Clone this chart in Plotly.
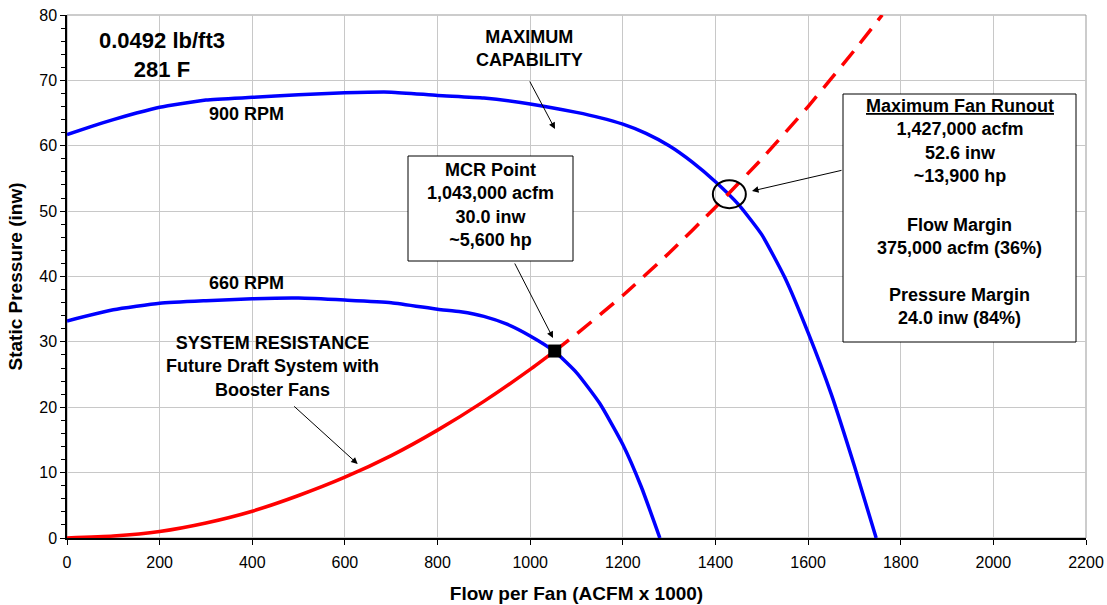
import plotly.graph_objects as go

# ---------------- data ----------------
rpm900_x = [0, 50, 100, 150, 200, 300, 400, 500, 600, 700, 800, 900, 1000, 1100, 1150, 1200,
            1250, 1300, 1350, 1400, 1450, 1500, 1550, 1600, 1650, 1700, 1747]
rpm900_y = [61.7, 62.9, 64.0, 65.0, 65.9, 67.0, 67.4, 67.8, 68.1, 68.2, 67.7, 67.3, 66.4, 65.1, 64.3, 63.3,
            61.9, 60.0, 57.5, 54.5, 51.0, 46.4, 39.8, 31.4, 22.0, 11.0, 0.0]

rpm660_x = [0, 100, 200, 300, 400, 500, 600, 700, 800, 850, 900, 950, 1000, 1053, 1100, 1150, 1200, 1240, 1280]
rpm660_y = [33.2, 34.9, 35.9, 36.3, 36.6, 36.7, 36.4, 36.0, 35.0, 34.6, 33.9, 32.7, 30.9, 28.5, 25.3, 20.6, 14.3, 7.8, 0.0]

sys_x = [0, 100, 200, 300, 400, 500, 600, 700, 800, 900, 1000, 1053]
sys_y = [0.0, 0.3, 1.0, 2.3, 4.1, 6.5, 9.3, 12.6, 16.5, 20.9, 25.8, 28.6]

sys_future_x = [1053, 1100, 1200, 1300, 1400, 1500, 1600, 1700, 1760]
sys_future_y = [28.6, 31.2, 37.1, 43.6, 50.6, 58.0, 66.0, 74.6, 80.0]

mcr_x = [1053]
mcr_y = [28.6]
runout_x = 1430
runout_y = 52.6

x_ticks = [0, 200, 400, 600, 800, 1000, 1200, 1400, 1600, 1800, 2000, 2200]
y_ticks = [0, 10, 20, 30, 40, 50, 60, 70, 80]

# ---------------- figure ----------------
W, H = 1107, 605
L, R, T, B = 67, 1086, 15, 538          # plot area in screen pixels
FONT = "Liberation Sans, Arial, sans-serif"


def pxx(p):
    return (p - L) / (R - L)


def pxy(p):
    return (B - p) / (B - T)


fig = go.Figure()

fig.add_trace(go.Scatter(x=rpm900_x, y=rpm900_y, mode="lines",
                         line=dict(color="#0000ff", width=3.5, shape="spline", smoothing=0.5),
                         name="900 RPM", hoverinfo="x+y"))
fig.add_trace(go.Scatter(x=rpm660_x, y=rpm660_y, mode="lines",
                         line=dict(color="#0000ff", width=3.5, shape="spline", smoothing=0.5),
                         name="660 RPM", hoverinfo="x+y"))
fig.add_trace(go.Scatter(x=sys_x, y=sys_y, mode="lines",
                         line=dict(color="#ff0000", width=3.5, shape="spline", smoothing=0.5),
                         name="System Resistance", hoverinfo="x+y"))
fig.add_trace(go.Scatter(x=sys_future_x, y=sys_future_y, mode="lines",
                         line=dict(color="#ff0000", width=3.5, dash="18px,11px", shape="spline", smoothing=0.5),
                         name="System Resistance (extended)", hoverinfo="x+y"))
fig.add_trace(go.Scatter(x=mcr_x, y=mcr_y, mode="markers",
                         marker=dict(symbol="square", size=13, color="black"),
                         name="MCR Point", hoverinfo="x+y"))

shapes = [
    # plot frame (top / right in grey)
    dict(type="rect", xref="paper", yref="paper", x0=0, x1=1, y0=0, y1=1,
         line=dict(color="#999999", width=1), layer="below"),
    # circle around max fan runout
    dict(type="circle", xref="x", yref="y", xsizemode="pixel", ysizemode="pixel",
         xanchor=runout_x, yanchor=runout_y, x0=-16.5, x1=16.5, y0=-14, y1=14,
         line=dict(color="black", width=2)),
    # MCR box
    dict(type="rect", xref="paper", yref="paper", x0=pxx(408), x1=pxx(573), y0=pxy(261), y1=pxy(156),
         line=dict(color="black", width=1), fillcolor="white", layer="above"),
    # Runout box
    dict(type="rect", xref="paper", yref="paper", x0=pxx(843), x1=pxx(1076), y0=pxy(342), y1=pxy(94),
         line=dict(color="black", width=1), fillcolor="white", layer="above"),
]

annotations = []


def txt(text, x, y, size=18):
    annotations.append(dict(text=text, xref="paper", yref="paper", x=pxx(x), y=pxy(y),
                            xanchor="center", yanchor="middle", showarrow=False, align="center",
                            font=dict(family=FONT, size=size, color="black")))


def arrow(hx, hy, tx, ty):
    annotations.append(dict(text="", xref="paper", yref="paper", x=pxx(hx), y=pxy(hy),
                            ax=tx - hx, ay=ty - hy, showarrow=True, arrowhead=2,
                            arrowsize=1.3, arrowwidth=1, arrowcolor="black"))


txt("<b>0.0492 lb/ft3<br>281 F</b>", 162, 55, size=22)
txt("<b>900 RPM</b>", 246.5, 114.5)
txt("<b>MAXIMUM<br>CAPABILITY</b>", 529, 49)
txt("<b>660 RPM</b>", 246.5, 282.5)
txt("<b>SYSTEM RESISTANCE<br>Future Draft System with<br>Booster Fans</b>", 272, 366)
txt("<b>MCR Point<br>1,043,000 acfm<br>30.0 inw<br>~5,600 hp</b>", 490.5, 204.5)
txt("<b><u>Maximum Fan Runout</u><br>1,427,000 acfm<br>52.6 inw<br>~13,900 hp</b>", 959.5, 141)
txt("<b>Flow Margin<br>375,000 acfm (36%)</b>", 959.5, 236)
txt("<b>Pressure Margin<br>24.0 inw (84%)</b>", 959.5, 307)

arrow(555, 129, 529, 80)
arrow(357.7, 464, 292.7, 405)
arrow(553, 338, 514, 262)
arrow(752, 191, 843, 170)

fig.update_layout(
    width=W, height=H,
    margin=dict(l=L, r=W - R, t=T, b=H - B, pad=0),
    paper_bgcolor="white", plot_bgcolor="white",
    showlegend=False,
    font=dict(family=FONT, size=16, color="black"),
    shapes=shapes,
    annotations=annotations,
    xaxis=dict(range=[0, 2200], tickvals=x_ticks, ticktext=[str(v) for v in x_ticks],
               showgrid=True, gridcolor="#c8c8c8", gridwidth=1,
               showline=True, linecolor="black", linewidth=1.5,
               ticks="outside", ticklen=5, tickcolor="black", ticklabelstandoff=4,
               ticklabeloverflow="allow",
               tickfont=dict(family=FONT, size=16), zeroline=False, automargin=False,
               title=dict(text="<b>Flow per Fan (ACFM x 1000)</b>", font=dict(family=FONT, size=19),
                          standoff=17)),
    yaxis=dict(range=[0, 80], tickvals=y_ticks, ticktext=[str(v) for v in y_ticks],
               showgrid=True, gridcolor="#c8c8c8", gridwidth=1,
               showline=True, linecolor="black", linewidth=1.5,
               ticks="outside", ticklen=5, tickcolor="black",
               ticklabeloverflow="allow",
               minor=dict(dtick=2, ticks="outside", ticklen=4, tickcolor="black", showgrid=False),
               tickfont=dict(family=FONT, size=16), zeroline=False, automargin=False,
               title=dict(text="<b>Static Pressure (inw)</b>", font=dict(family=FONT, size=19),
                          standoff=12)),
)

# remove the default page margin so the figure fills the 1107x605 window exactly
fig.write_html("out.html",
               config={"displayModeBar": False},
               post_script="document.body.style.margin='0';document.body.style.overflow='hidden';")
